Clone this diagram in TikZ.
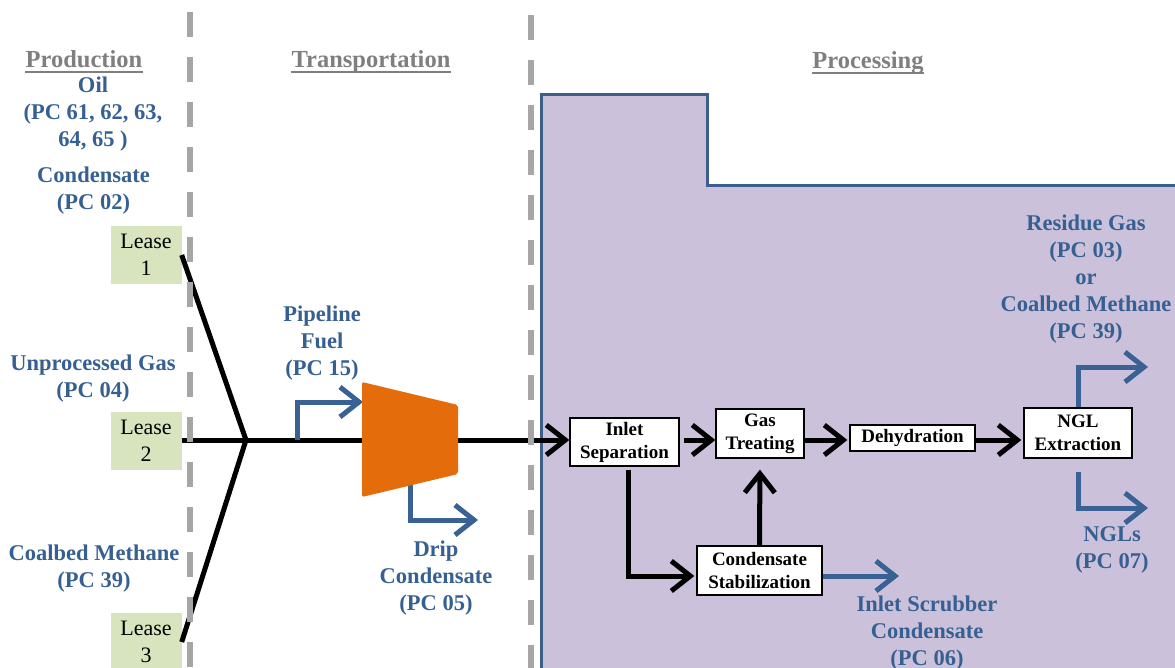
\documentclass[tikz,border=0pt]{standalone}
\usepackage{fontspec}
\setmainfont{Liberation Serif}
\usetikzlibrary{arrows.meta}
\definecolor{bluetxt}{HTML}{376092}
\definecolor{arrowblue}{HTML}{3A6194}
\definecolor{headgray}{HTML}{7F7F7F}
\definecolor{dashgray}{HTML}{A6A6A6}
\definecolor{purplefill}{HTML}{CCC1DA}
\definecolor{borderblue}{HTML}{3B5E8C}
\definecolor{leasegreen}{HTML}{D7E4BD}
\definecolor{comporange}{HTML}{E46C0A}
\begin{document}
\begin{tikzpicture}[x=1pt,y=-1pt,
  lbl/.style={text=bluetxt, font=\bfseries\fontsize{22.5}{27}\selectfont, align=center, inner sep=0pt},
  head/.style={text=headgray, font=\bfseries\fontsize{24.5}{27}\selectfont, inner sep=0pt},
  headline/.style={draw=headgray, line width=2pt},
  lease/.style={fill=leasegreen, minimum width=71pt, minimum height=58pt, inner sep=0pt, align=center, font=\fontsize{22}{27}\selectfont},
  proc/.style={draw=black, line width=1.3pt, fill=white, inner sep=0pt, align=center, font=\bfseries\fontsize{19}{23}\selectfont},
  flow/.style={draw=black, line width=5pt, -{Straight Barb[length=19pt,width=30pt]}},
  bflow/.style={flow, draw=arrowblue},
  feed/.style={draw=black, line width=5pt},
  sepline/.style={draw=dashgray, line width=6pt, dash pattern=on 25pt off 20pt},
  region/.style={fill=purplefill},
  regionborder/.style={draw=borderblue, line width=3pt}
]
\useasboundingbox (0,0) rectangle (1175,668);
\clip (0,0) rectangle (1175,668);

% processing region
\fill[region] (541,690) -- (541,95) -- (707,95) -- (707,186) -- (1195,186) -- (1195,690) -- cycle;
\draw[regionborder] (541,690) -- (541,95) -- (707,95) -- (707,186) -- (1195,186);

% headings
\node[head, anchor=base] (hprod) at (84,67.5) {Production};
\node[head, anchor=base] (htrans) at (371,67.5) {Transportation};
\node[head, anchor=base] (hproc) at (868,68.5) {Processing};
\draw[headline] ([yshift=-4.5pt]hprod.base west) -- ([yshift=-4.5pt]hprod.base east);
\draw[headline] ([yshift=-4.5pt]htrans.base west) -- ([yshift=-4.5pt]htrans.base east);
\draw[headline] ([yshift=-4.5pt]hproc.base west) -- ([yshift=-4.5pt]hproc.base east);

% leases
\node[lease] (L1) at (146,255) {Lease\\1};
\node[lease] (L2) at (146,441) {Lease\\2};
\node[lease] (L3) at (146,642) {Lease\\3};

% key coordinates
\coordinate (row) at (0,440);
\coordinate (J) at (246,440);
\coordinate (cin) at (362,440);
\coordinate (cout) at (458,440);
\coordinate (pfstart) at (297,440);
\coordinate (pfend) at (363,402);
\coordinate (dripstart) at (410,485);
\coordinate (dripend) at (478,520);
\coordinate (csrow) at (0,576);
\coordinate (iscend) at (899,576);
\coordinate (resend) at (1148,367);
\coordinate (nglend) at (1148,508);

% feed lines
\draw[feed] (L1.east) -- (J) -- (L3.east);
\draw[feed] (L2.east |- row) -- (J) -- (cin);

% process boxes
\node[proc, minimum width=109pt, minimum height=48pt] (inlet) at (624.5,442) {Inlet\\Separation};
\node[proc, minimum width=88pt, minimum height=49pt] (gas) at (760,433.5) {Gas\\Treating};
\node[proc, minimum width=125pt, minimum height=26pt] (dehy) at (912.5,438) {Dehydration};
\node[proc, minimum width=108pt, minimum height=50pt] (ngl) at (1078,433) {NGL\\Extraction};
\node[proc, minimum width=125pt, minimum height=49pt] (cs) at (759.5,570.5) {Condensate\\Stabilization};

% flows
\draw[flow] (cout) -- (inlet.west |- row);
\draw[flow, shorten <=4pt] (inlet.east |- row) -- (gas.west |- row);
\draw[flow] (gas.east |- row) -- ([xshift=-2pt]dehy.west |- row);
\draw[flow] (dehy.east |- row) -- ([xshift=-2pt]ngl.west |- row);
\draw[flow, shorten <=3pt] ([xshift=3.5pt]inlet.south) |- ([xshift=-2pt]cs.west |- csrow);
\draw[flow, shorten >=11pt] (cs.north) -- (gas.south);

% blue side streams
\draw[bflow] (pfstart) |- (pfend);
\draw[bflow] (dripstart) |- (dripend);
\draw[bflow] (cs.east |- csrow) -- (iscend);
\draw[bflow] (ngl.north) |- (resend);
\draw[bflow] ([yshift=-13pt]ngl.south) |- (nglend);

% compressor
\fill[comporange, rounded corners=2pt] (362,382) -- (458,405) -- (458,474) -- (362,497) -- cycle;

% labels
\node[lbl] (oil) at (93,114.5) {Oil\\(PC 61, 62, 63,\\64, 65 )};
\node[lbl] (cond) at (93.5,190.5) {Condensate\\(PC 02)};
\node[lbl] (ug) at (93,379) {Unprocessed Gas\\(PC 04)};
\node[lbl] (cbm) at (94,568.5) {Coalbed Methane\\(PC 39)};
\node[lbl] (pf) at (322,343.5) {Pipeline\\Fuel\\(PC 15)};
\node[lbl] (drip) at (436,578.5) {Drip\\Condensate\\(PC 05)};
\node[lbl] (isc) at (927,633.5) {Inlet Scrubber\\Condensate\\(PC 06)};
\node[lbl] (res) at (1086,279) {Residue Gas\\(PC 03)\\or\\Coalbed Methane\\(PC 39)};
\node[lbl] (ngls) at (1112,550) {NGLs\\(PC 07)};

% stage separators
\draw[sepline] (190,-33) -- (190,700);
\draw[sepline] (531,-30) -- (531,700);
\end{tikzpicture}
\end{document}
